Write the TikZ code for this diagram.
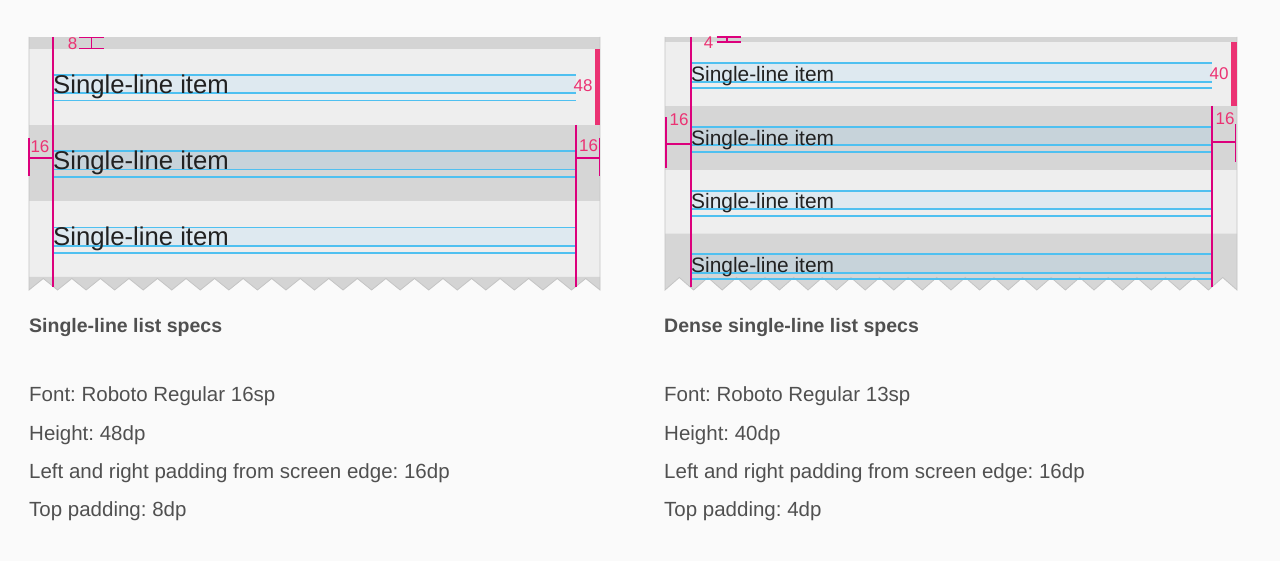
\documentclass[tikz,border=0pt]{standalone}
\usepackage{fontspec}
\setmainfont{Liberation Sans}
\definecolor{pagebg}{RGB}{250,250,250}
\definecolor{bandgray}{RGB}{212,212,212}
\definecolor{rowlight}{RGB}{238,238,238}
\definecolor{rowdark}{RGB}{214,214,214}
\definecolor{tintlight}{RGB}{222,233,240}
\definecolor{tintdark}{RGB}{199,211,218}
\definecolor{guideblue}{RGB}{79,192,240}
\definecolor{keymag}{RGB}{220,0,124}
\definecolor{specpink}{RGB}{235,50,115}
\definecolor{edgegray}{RGB}{196,196,196}
\definecolor{itemtext}{RGB}{33,33,33}
\definecolor{spectext}{RGB}{80,80,80}
\frenchspacing

\begin{document}
\begin{tikzpicture}[x=1pt, y=-1pt,
    guide/.style={draw=guideblue, line width=1.8pt},
    keyline/.style={draw=keymag, line width=1.9pt},
    dimline/.style={draw=keymag, line width=1.7pt},
    dimlabel/.style={text=specpink, font=\fontsize{17}{17}\selectfont, inner sep=0pt},
    item/.style={text=itemtext, anchor=base west, inner sep=0pt},
    spec/.style={text=spectext, anchor=base west, inner sep=0pt, font=\fontsize{20.5}{24}\selectfont},
    spechead/.style={text=spectext, anchor=base west, inner sep=0pt, font=\bfseries\fontsize{19.5}{24}\selectfont}]
    \path[use as bounding box, fill=pagebg] (0,0) rectangle (1280,561);

    % single-line panel
    \fill[bandgray] (29,37) rectangle (600,49);
    \fill[rowlight] (29,49) rectangle (600,125);
    \fill[rowdark] (29,125) rectangle (600,201);
    \fill[rowlight] (29,201) rectangle (600,277);
    \fill[bandgray] (29,277) -- (29,290) \foreach \k in {0,...,19}{ -- ({43.3+28.55*\k},278.5) -- ({57.55+28.55*\k},290)} -- (600,277) -- cycle;
    \draw[edgegray, line width=0.8pt] (29,37) -- (29,290) \foreach \k in {0,...,19}{ -- ({43.3+28.55*\k},278.5) -- ({57.55+28.55*\k},290)} -- (600,37);
    \foreach \y/\c in {75/tintlight, 151.3/tintdark, 227.6/tintlight}{
        \fill[\c] (53,\y) rectangle (576,\y+18.3);
        \draw[guide] (53,\y) -- (576,\y);
        \draw[guide] (53,\y+18.3) -- (576,\y+18.3);
        \draw[guide] (53,\y+25.5) -- (576,\y+25.5);
    }
    \node[item, font=\fontsize{25.7}{30}\selectfont] (itemA) at (53,93.3) {Single-line item};
    \node[item, font=\fontsize{25.7}{30}\selectfont] (itemB) at (53,169.6) {Single-line item};
    \node[item, font=\fontsize{25.7}{30}\selectfont] (itemC) at (53,245.9) {Single-line item};
    \draw[keyline] (53,37) -- (53,287);
    \draw[keyline] (576,125) -- (576,287);
    \fill[specpink] (595,49) rectangle (600,125.5);
    \node[dimlabel] (hA) at (583,86) {48};
    \draw[dimline] (29,138) -- (29,176);
    \draw[dimline] (29,158) -- (53,158);
    \node[dimlabel] (padLA) at (40,147) {16};
    \draw[dimline] (599.5,138) -- (599.5,176);
    \draw[dimline] (576,158) -- (600,158);
    \node[dimlabel] (padRA) at (588.5,146) {16};
    \draw[dimline] (79,37.5) -- (104,37.5);
    \draw[dimline] (79,48.5) -- (104,48.5);
    \draw[dimline] (91.5,37.5) -- (91.5,48.5);
    \node[dimlabel] (topA) at (72.5,43.5) {8};

    % dense panel
    \fill[bandgray] (665,37) rectangle (1237,42.3);
    \fill[rowlight] (665,42.3) rectangle (1237,106);
    \fill[rowdark] (665,106) rectangle (1237,169.8);
    \fill[rowlight] (665,169.8) rectangle (1237,233.6);
    \fill[rowdark] (665,233.6) -- (665,290) \foreach \k in {0,...,19}{ -- ({679.3+28.6*\k},277.5) -- ({693.6+28.6*\k},290)} -- (1237,233.6) -- cycle;
    \draw[edgegray, line width=0.8pt] (665,37) -- (665,290) \foreach \k in {0,...,19}{ -- ({679.3+28.6*\k},277.5) -- ({693.6+28.6*\k},290)} -- (1237,37);
    \foreach \y/\c in {63.3/tintlight, 127/tintdark, 190.7/tintlight, 254.4/tintdark}{
        \fill[\c] (691,\y) rectangle (1212,\y+18.4);
        \draw[guide] (691,\y) -- (1212,\y);
        \draw[guide] (691,\y+18.4) -- (1212,\y+18.4);
        \draw[guide] (691,\y+25) -- (1212,\y+25);
    }
    \node[item, font=\fontsize{20.9}{24}\selectfont] (denseA) at (691,81.5) {Single-line item};
    \node[item, font=\fontsize{20.9}{24}\selectfont] (denseB) at (691,145.2) {Single-line item};
    \node[item, font=\fontsize{20.9}{24}\selectfont] (denseC) at (691,208.9) {Single-line item};
    \node[item, font=\fontsize{20.9}{24}\selectfont] (denseD) at (691,272.6) {Single-line item};
    \draw[keyline] (690.7,37) -- (690.7,287);
    \draw[keyline] (1212,106) -- (1212,287);
    \fill[specpink] (1231,42.5) rectangle (1236.7,106);
    \node[dimlabel] (hB) at (1219,73.5) {40};
    \draw[dimline] (665.7,117.3) -- (665.7,168);
    \draw[dimline] (665.7,144) -- (690.7,144);
    \node[dimlabel] (padLB) at (679,119.3) {16};
    \draw[dimline] (1235.5,124.3) -- (1235.5,161.7);
    \draw[dimline] (1212,141.7) -- (1236,141.7);
    \node[dimlabel] (padRB) at (1225,119) {16};
    \draw[dimline] (716.7,37.3) -- (741,37.3);
    \draw[dimline] (716.7,42) -- (741,42);
    \draw[dimline] (726.7,37.3) -- (726.7,42);
    \node[dimlabel] (topB) at (708.5,43) {4};

    % spec texts
    \node[spechead] (headA) at (29,332.3) {Single-line list specs};
    \node[spec] (fontA) at (29,401.7) {Font: Roboto Regular 16sp};
    \node[spec] (heightA) at (29,440) {Height: 48dp};
    \node[spec] (padA) at (29,478.3) {Left and right padding from screen edge: 16dp};
    \node[spec] (topPadA) at (29,516.7) {Top padding: 8dp};
    \node[spechead] (headB) at (664,332.3) {Dense single-line list specs};
    \node[spec] (fontB) at (664,401.7) {Font: Roboto Regular 13sp};
    \node[spec] (heightB) at (664,440) {Height: 40dp};
    \node[spec] (padB) at (664,478.3) {Left and right padding from screen edge: 16dp};
    \node[spec] (topPadB) at (664,516.7) {Top padding: 4dp};
\end{tikzpicture}
\end{document}
